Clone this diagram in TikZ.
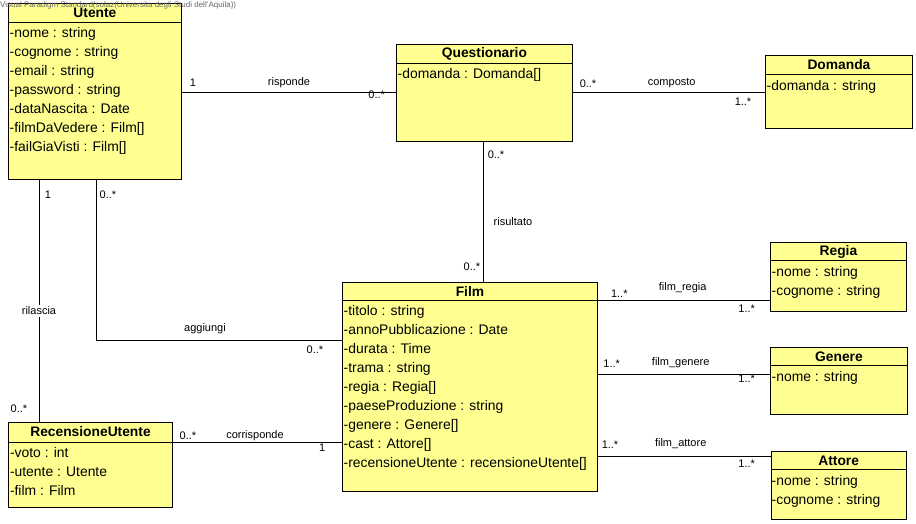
\documentclass[tikz,border=0pt]{standalone}
\usepackage{fontspec}
\setmainfont{Liberation Sans}
\usetikzlibrary{calc}
\definecolor{umlyellow}{RGB}{255,255,145}
\tikzset{
  classbox/.style={draw, fill=umlyellow, line width=0.9pt, inner sep=0pt, anchor=north west},
  classname/.style={font=\fontsize{13.8}{14}\selectfont\bfseries, inner sep=0pt},
  attr/.style={font=\fontsize{13.9}{14}\selectfont, inner sep=0pt, anchor=base west},
  assoc/.style={line width=0.9pt},
  mult/.style={font=\fontsize{11}{12}\selectfont, inner sep=0pt},
}

\begin{document}
\begin{tikzpicture}[x=1pt,y=-1pt]
\useasboundingbox (0,0) rectangle (916,523);
% --- classi
\node[classbox, minimum width=173pt, minimum height=176pt] (utente) at (8,3) {};
\node[classname] (utente-t) at ($(utente.north)+(0,10)$) {Utente};
\draw[assoc] ($(utente.north west)+(0,19)$) -- ($(utente.north east)+(0,19)$);
\foreach \a [count=\i from 0] in {{-nome : string},{-cognome : string},{-email : string},{-password : string},{-dataNascita : Date},{-filmDaVedere : Film[]},{-failGiaVisti : Film[]}}
	\node[attr] (utente-a\i) at ($(utente.north west)+(1.5,34.5+19*\i)$) {\a};

\node[classbox, minimum width=176pt, minimum height=97pt] (questionario) at (396,44) {};
\node[classname] (questionario-t) at ($(questionario.north)+(0,10)$) {Questionario};
\draw[assoc] ($(questionario.north west)+(0,19)$) -- ($(questionario.north east)+(0,19)$);
\node[attr] (questionario-a0) at ($(questionario.north west)+(1.5,34)$) {-domanda : Domanda[]};

\node[classbox, minimum width=147pt, minimum height=73pt] (domanda) at (765,55) {};
\node[classname] (domanda-t) at ($(domanda.north)+(0,10)$) {Domanda};
\draw[assoc] ($(domanda.north west)+(0,19.5)$) -- ($(domanda.north east)+(0,19.5)$);
\node[attr] (domanda-a0) at ($(domanda.north west)+(1.5,35)$) {-domanda : string};

\node[classbox, minimum width=255pt, minimum height=209.5pt] (film) at (342,281.5) {};
\node[classname] (film-t) at ($(film.north)+(0,10)$) {Film};
\draw[assoc] ($(film.north west)+(0,18.5)$) -- ($(film.north east)+(0,18.5)$);
\foreach \a [count=\i from 0] in {{-titolo : string},{-annoPubblicazione : Date},{-durata : Time},{-trama : string},{-regia : Regia[]},{-paeseProduzione : string},{-genere : Genere[]},{-cast : Attore[]},{-recensioneUtente : recensioneUtente[]}}
	\node[attr] (film-a\i) at ($(film.north west)+(1.5,34+19*\i)$) {\a};

\node[classbox, minimum width=136pt, minimum height=69pt] (regia) at (770,241.5) {};
\node[classname] (regia-t) at ($(regia.north)+(0,10)$) {Regia};
\draw[assoc] ($(regia.north west)+(0,19)$) -- ($(regia.north east)+(0,19)$);
\node[attr] (regia-a0) at ($(regia.north west)+(1.5,34.5)$) {-nome : string};
\node[attr] (regia-a1) at ($(regia.north west)+(1.5,53.5)$) {-cognome : string};

\node[classbox, minimum width=137pt, minimum height=67pt] (genere) at (770,346.5) {};
\node[classname] (genere-t) at ($(genere.north)+(0,10)$) {Genere};
\draw[assoc] ($(genere.north west)+(0,19)$) -- ($(genere.north east)+(0,19)$);
\node[attr] (genere-a0) at ($(genere.north west)+(1.5,34.5)$) {-nome : string};

\node[classbox, minimum width=135.5pt, minimum height=68.5pt] (attore) at (770.5,450.7) {};
\node[classname] (attore-t) at ($(attore.north)+(0,10)$) {Attore};
\draw[assoc] ($(attore.north west)+(0,18.6)$) -- ($(attore.north east)+(0,18.6)$);
\node[attr] (attore-a0) at ($(attore.north west)+(1,34.5)$) {-nome : string};
\node[attr] (attore-a1) at ($(attore.north west)+(1,53.5)$) {-cognome : string};

\node[classbox, minimum width=163.5pt, minimum height=85pt] (recensione) at (8.3,421.7) {};
\node[classname] (recensione-t) at ($(recensione.north)+(0,10)$) {RecensioneUtente};
\draw[assoc] ($(recensione.north west)+(0,20.6)$) -- ($(recensione.north east)+(0,20.6)$);
\foreach \a [count=\i from 0] in {{-voto : int},{-utente : Utente},{-film : Film}}
	\node[attr] (recensione-a\i) at ($(recensione.north west)+(1.5,35.5+19*\i)$) {\a};

% --- associazioni
\draw[assoc] ($(utente.north east)+(0,89)$) -- ($(questionario.north west)+(0,48)$);
\node[mult] (m1) at (193,82.7) {1};
\node[mult] (m2) at (289,82.7) {risponde};
\node[mult] (m3) at (376.7,95) {0..*};

\draw[assoc] ($(questionario.north east)+(0,48.5)$) -- ($(domanda.north west)+(0,37.5)$);
\node[mult] (m4) at (588,83.3) {0..*};
\node[mult] (m5) at (671.7,83) {composto};
\node[mult] (m6) at (743,101.7) {1..*};

\draw[assoc] ($(questionario.south)+(-1.3,0)$) coordinate (q1) -- (q1 |- film.north);
\node[mult] (m7) at (496,155) {0..*};
\node[mult] (m8) at (513,221.7) {risultato};
\node[mult] (m9) at (472,266.7) {0..*};

\draw[assoc] ($(utente.south west)+(88,0)$) |- ($(film.north west)+(0,59.3)$);
\node[mult] (m10) at (108,195) {0..*};
\node[mult] (m11) at (205,328.3) {aggiungi};
\node[mult] (m12) at (315,350) {0..*};

\draw[assoc] ($(utente.south west)+(31,0)$) coordinate (r1) -- (r1 |- recensione.north);
\node[mult] (m13) at (48,195) {1};
\node[mult, fill=white, inner ysep=2pt] (m14) at (39,311) {rilascia};
\node[mult] (m15) at (19,408.3) {0..*};

\draw[assoc] ($(recensione.north east)+(0,20.6)$) coordinate (c1) -- (c1 -| film.west);
\node[mult] (m16) at (188,436) {0..*};
\node[mult] (m17) at (255,436) {corrisponde};
\node[mult] (m18) at (322.3,447.3) {1};

\draw[assoc] ($(regia.south west)+(0,-11)$) coordinate (g1) -- (g1 -| film.east);
\node[mult] (m19) at (619.3,293.3) {1..*};
\node[mult] (m20) at (682.7,287.3) {film\_regia};
\node[mult] (m21) at (746.7,309) {1..*};

\draw[assoc] ($(genere.north west)+(0,28)$) coordinate (g2) -- (g2 -| film.east);
\node[mult] (m22) at (611.7,363.3) {1..*};
\node[mult] (m23) at (680.7,363) {film\_genere};
\node[mult] (m24) at (746.7,379) {1..*};

\draw[assoc] ($(attore.north west)+(0,6)$) coordinate (g3) -- (g3 -| film.east);
\node[mult] (m25) at (610,445) {1..*};
\node[mult] (m26) at (680.7,444) {film\_attore};
\node[mult] (m27) at (746.7,463.3) {1..*};

% --- filigrana
\node[font=\fontsize{8}{9}\selectfont, text=black!60, inner sep=0pt, anchor=west] (wm) at (0,5.5) {Visual Paradigm Standard(solaz(Universita degli Studi dell'Aquila))};
\end{tikzpicture}
\end{document}
